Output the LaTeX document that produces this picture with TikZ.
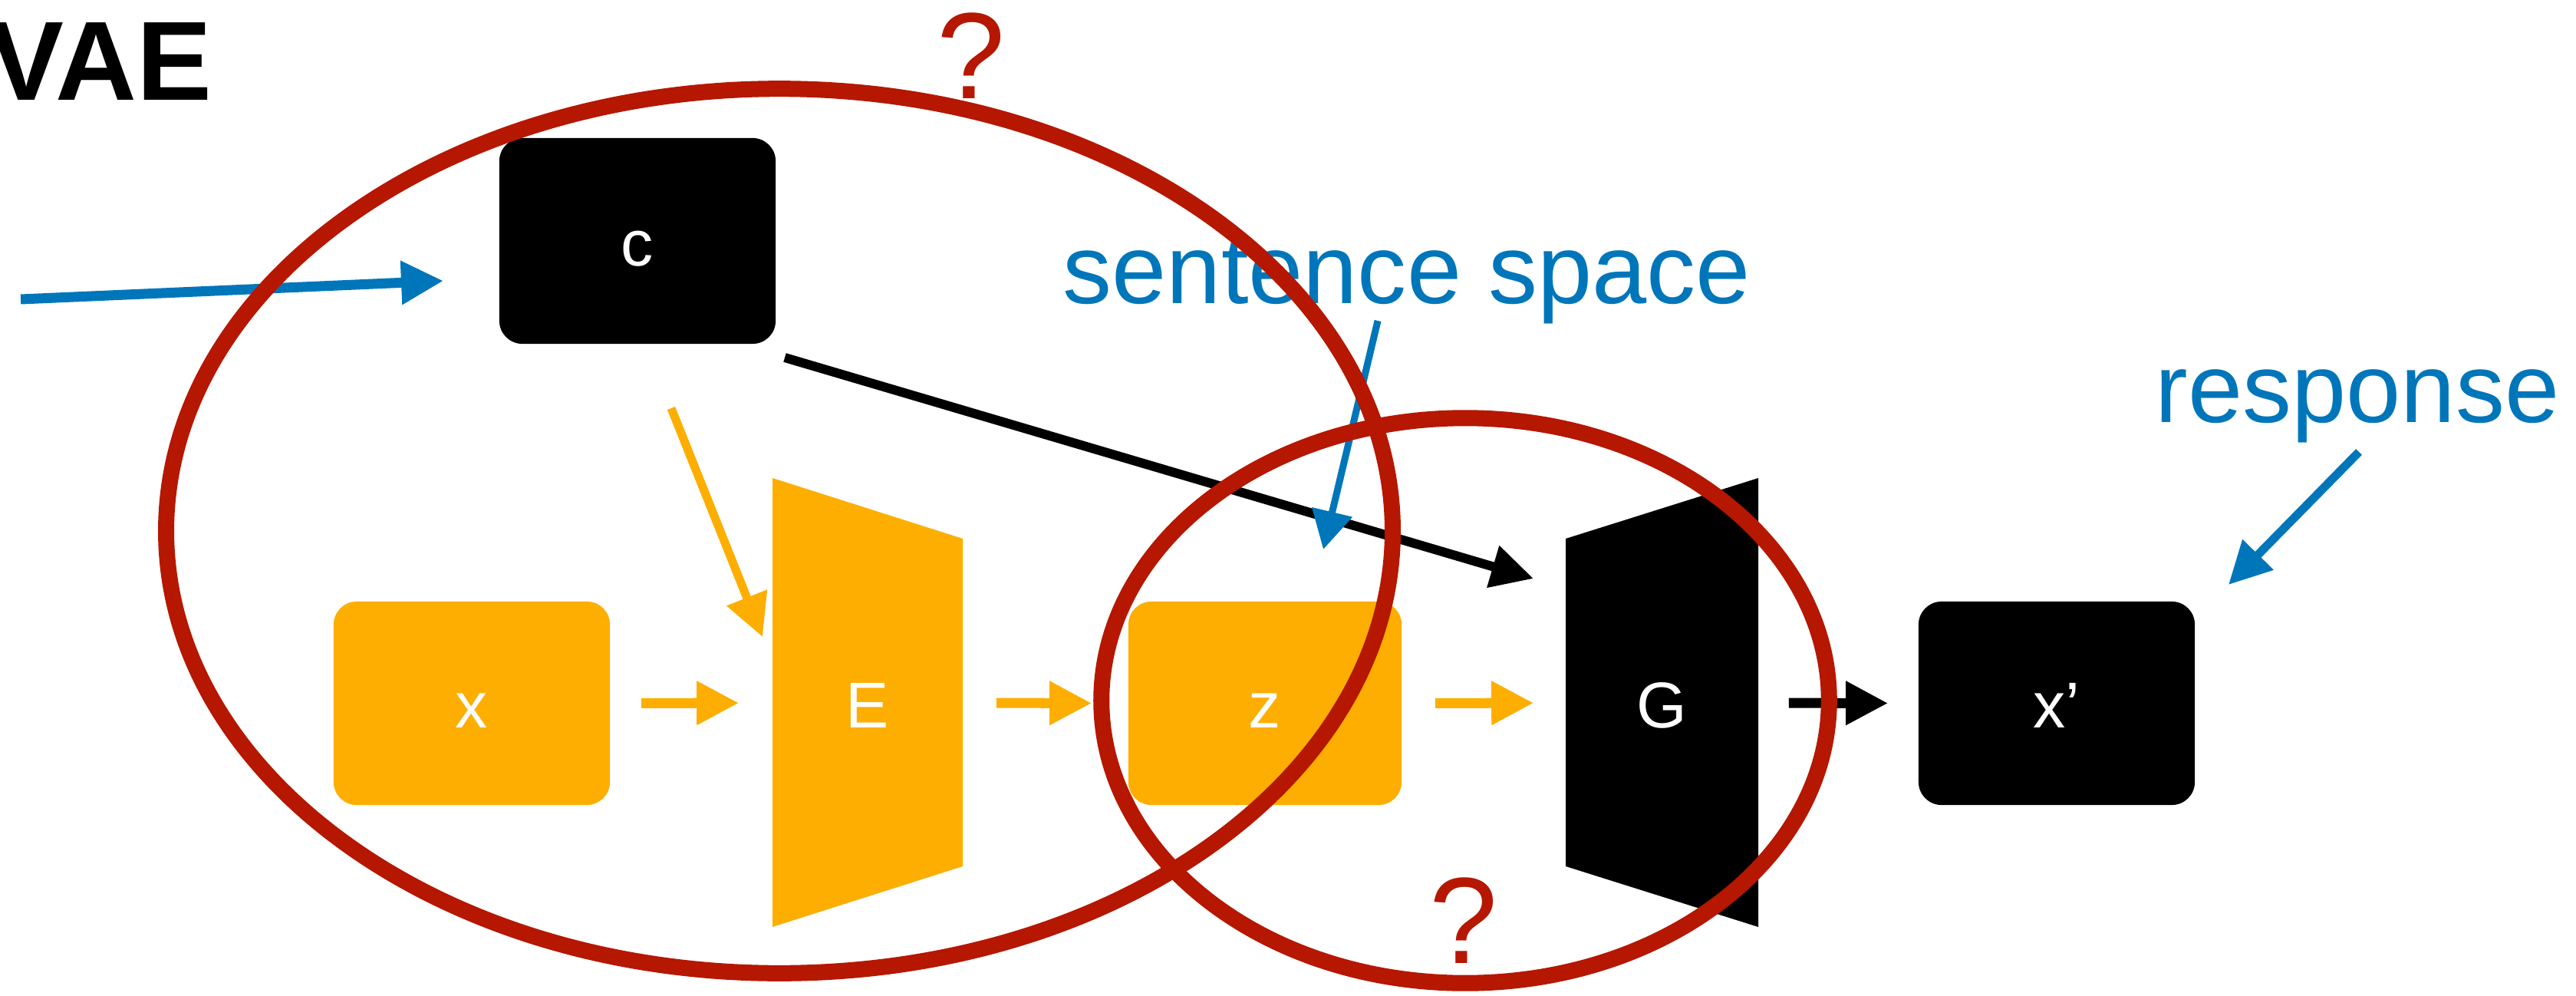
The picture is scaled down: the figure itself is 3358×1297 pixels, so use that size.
\documentclass[tikz,border=0pt]{standalone}
\usepackage{fontspec}
\setmainfont{Liberation Sans}
\usetikzlibrary{arrows.meta}
\definecolor{vred}{HTML}{B51700}
\definecolor{vblue}{HTML}{0076BA}
\definecolor{vorange}{HTML}{FDAE00}

\begin{document}
\begin{tikzpicture}[x=0.01cm, y=-0.01cm,
  labelfont/.style={font=\fontsize{24}{28}\selectfont},
  box/.style={rounded corners=0.3cm, minimum width=3.6cm, minimum height=2.65cm,
    inner sep=0pt, text=white, labelfont, text height=0.64cm, text depth=0pt},
  blackbox/.style={box, fill=black},
  orangebox/.style={box, fill=vorange},
  block/.style={minimum width=2.5cm, minimum height=5.85cm, inner sep=0pt,
    text=white, labelfont, text height=0.64cm, text depth=0pt},
  flow/.style={line width=0.13cm, -{Triangle[length=0.55cm,width=0.54cm]}},
  thinflow/.style={line width=0.09cm, -{Triangle[length=0.5cm,width=0.52cm]}},
  caption/.style={text=vblue, font=\fontsize{36.4}{40}\selectfont, inner sep=0pt, anchor=base west},
  query/.style={text=vred, font=\fontsize{45.5}{50}\selectfont, inner sep=0pt, anchor=base},
  region/.style={draw=vred, line width=0.21cm}
]
\useasboundingbox (0,0) rectangle (3358,1297);

% title
\node[font=\fontsize{41.7}{45}\selectfont\bfseries, anchor=base west, inner sep=0pt] (title) at (-15,130) {VAE};

% encoder / generator blocks
\fill[vorange] (1007,623) -- (1255,702) -- (1255,1129) -- (1007,1208) -- cycle;
\node[block, minimum width=2.48cm] (E) at (1131,916) {E};
\fill[black] (2041,702) -- (2292,623) -- (2292,1208) -- (2041,1129) -- cycle;
\node[block, minimum width=2.51cm] (G) at (2166.5,916) {G};

% boxes
\node[blackbox, minimum height=2.68cm] (c) at (831,314) {c};
\node[orangebox] (x) at (615,916.5) {x};
\node[orangebox, minimum width=3.56cm] (z) at (1649,916.5) {z};
\node[blackbox] (xp) at (2681,916.5) {x’};

% pipeline arrows
\draw[flow, vorange, shorten <=0.40cm, shorten >=0.43cm] (x.east) -- (E.west);
\draw[flow, vorange, shorten <=0.43cm, shorten >=0.47cm] (E.east) -- (z.west);
\draw[flow, vorange, shorten <=0.43cm, shorten >=0.41cm] (z.east) -- (G.west);
\draw[flow, black, shorten <=0.39cm, shorten >=0.39cm] (G.east) -- (xp.west);

% free-ended arrows
\coordinate (ctxin) at (27,390);
\coordinate (ctxtip) at (578,366);
\coordinate (cout) at (1023,466);
\coordinate (gin) at (1999,754);
\coordinate (cdown) at (875,532);
\coordinate (ein) at (994,830);
\coordinate (sfrom) at (1796,418);
\coordinate (sto) at (1725,716);
\coordinate (rfrom) at (3075,589);
\coordinate (rto) at (2905,762);

\draw[flow, vblue] (ctxin) -- (ctxtip);
\draw[flow, black, line width=0.12cm] (cout) -- (gin);
\draw[flow, vorange, line width=0.11cm] (cdown) -- (ein);
\draw[thinflow, vblue] (sfrom) -- (sto);
\draw[flow, vblue, line width=0.11cm] (rfrom) -- (rto);

% captions
\node[caption] (sent) at (1385,395) {sentence space};
\node[caption] (resp) at (2809,550) {response};

% regions
\draw[region] (1016,692) ellipse [x radius=7.99cm, y radius=5.76cm];
\draw[region] (1910,913) ellipse [x radius=4.74cm, y radius=3.68cm];

\node[query] (q1) at (1266,129) {?};
\node[query] (q2) at (1908,1255) {?};
\end{tikzpicture}
\end{document}
